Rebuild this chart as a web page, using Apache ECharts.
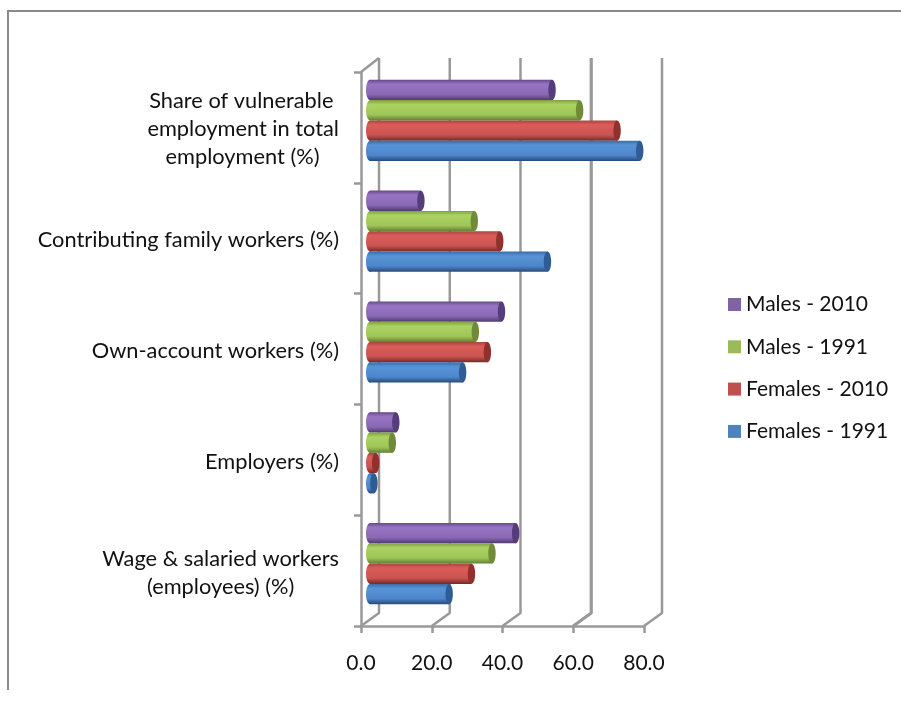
<!DOCTYPE html>
<html><head><meta charset="utf-8">
<style>html,body{margin:0;padding:0;background:#fff}#c{width:901px;height:717px}</style>
<script src="https://cdn.jsdelivr.net/npm/echarts@6/dist/echarts.min.js"></script>
</head><body><div id="c"></div>
<script>
var NB = '\u00a0';
var categories = ['Wage & salaried workers\n(employees) (%)' , 'Employers (%)', 'Own-account workers (%)', 'Contributing family workers (%)', 'Share of vulnerable\nemployment in total\nemployment (%)'];
var tickLabels = [
  'Wage & salaried workers\n(employees) (%)' + NB.repeat(8),
  'Employers (%)', 'Own-account workers (%)', 'Contributing family workers (%)',
  'Share of vulnerable' + NB + '\nemployment in total\nemployment (%)' + NB.repeat(3) + '\u2009'];
var females1991 = [22.4, 1.1, 26.2, 50.2, 76.3];
var females2010 = [28.7, 1.6, 33.2, 36.7, 69.9];
var males1991   = [34.5, 6.3, 29.8, 29.5, 59.3];
var males2010   = [41.2, 7.3, 37.2, 14.4, 51.5];
var valueTicks = [0, 20, 40, 60, 80];
var seriesNames = ['Males - 2010', 'Males - 1991', 'Females - 2010', 'Females - 1991'];
var seriesValues = [males2010, males1991, females2010, females1991];
var legendColors = ['#8064A2', '#9BBB59', '#C0504D', '#4F81BD'];
var bodyStops = [
  ['#67498D', '#9875C4', '#8A69B4', '#4F3A70'],
  ['#7F9F42', '#ACD262', '#9EC658', '#627F30'],
  ['#A84441', '#DB5D59', '#CA5350', '#752A28'],
  ['#3A6CA6', '#5893D8', '#4D86CA', '#28497A']];
var capColors = ['#553C7A', '#6F8B38', '#92302E', '#2F5D93'];

var gridColor = '#999999';
function grad(s) {
  var c = bodyStops[s];
  return {type:'linear',x:0,y:0,x2:0,y2:1,colorStops:[
    {offset:0,color:c[0]},{offset:0.22,color:c[1]},{offset:0.72,color:c[2]},{offset:1,color:c[3]}]};
}
var series = [];
series.push({
  type:'custom', xAxisIndex:0, yAxisIndex:0, z:1, silent:true, clip:false,
  data: valueTicks.map(function(v){return [v];}),
  encode:{x:0},
  renderItem:function(params, api){
    var v = api.value(0), cs = params.coordSys;
    var x = api.coord([v, 0])[0], b = cs.y + cs.height, t = cs.y;
    var kids = [{type:'polyline',shape:{points:[[x,b],[x+18,b-13],[x+18,t-14]]},
      style:{stroke:gridColor,lineWidth:v===60?3.2:2.5,fill:null,lineJoin:'bevel'}}];
    if (v===0) kids.push({type:'line',shape:{x1:x,y1:t,x2:x+18,y2:t-14},style:{stroke:gridColor,lineWidth:2.5}});
    return {type:'group',children:kids};
  }
});
seriesNames.forEach(function(n,s){
  series.push({
    name:n, type:'bar', xAxisIndex:1, yAxisIndex:1, z:2, barWidth:20.3, barGap:0, silent:true,
    data:seriesValues[s],
    itemStyle:{color:grad(s), borderRadius:0}
  });
});
seriesNames.forEach(function(n,s){
  series.push({
    type:'custom', xAxisIndex:1, yAxisIndex:1, z:3, silent:true, clip:false,
    data:seriesValues[s].map(function(v,i){return [v,i];}),
    encode:{x:0,y:1},
    renderItem:function(params, api){
      var p = api.coord([api.value(0), api.value(1)]);
      var x0 = api.coord([0, api.value(1)])[0];
      var cy = p[1] + 20.3*(s-1.5);
      return {type:'group',children:[
        {type:'ellipse',shape:{cx:x0,cy:cy,rx:4,ry:10.1},style:{fill:grad(s)}},
        {type:'ellipse',shape:{cx:p[0],cy:cy,rx:3.7,ry:10.1},style:{fill:capColors[s]}}
      ]};
    }
  });
});
var chart = echarts.init(document.getElementById('c'), null, {renderer:'canvas'});
chart.setOption({
  animation:false,
  backgroundColor:'#fff',
  textStyle:{fontFamily:'Lato'},
  graphic:[
    {type:'line',shape:{x1:7,y1:11,x2:901,y2:11},style:{stroke:'#8A8A8A',lineWidth:2}},
    {type:'line',shape:{x1:8,y1:10,x2:8,y2:690},style:{stroke:'#8A8A8A',lineWidth:2}}
  ],
  grid:[
    {left:361,top:72,width:283,height:554},
    {left:370,top:65,width:282.8,height:554},
    {left:361,top:74,width:283,height:554}
  ],
  xAxis:[
    {gridIndex:0,type:'value',min:0,max:80,interval:20,
     axisLine:{show:true,lineStyle:{color:gridColor,width:2.5}},
     axisTick:{show:true,length:7,lineStyle:{color:gridColor,width:2.5}},
     splitLine:{show:false},
     axisLabel:{margin:27,fontSize:21,color:'#111',fontFamily:'Lato',formatter:function(v){return v.toFixed(1);}}},
    {gridIndex:1,type:'value',min:0,max:80,interval:20,show:false},
    {gridIndex:2,type:'value',min:0,max:80,interval:20,show:false}
  ],
  yAxis:[
    {gridIndex:0,type:'category',data:categories,
     axisLine:{show:true,lineStyle:{color:gridColor,width:2.5}},
     axisTick:{show:true,length:7,lineStyle:{color:gridColor,width:2.5}},
     axisLabel:{show:false}},
    {gridIndex:1,type:'category',data:categories,show:false},
    {gridIndex:2,type:'category',data:categories,
     axisLine:{show:false},axisTick:{show:false},
     axisLabel:{margin:22,fontSize:21.8,lineHeight:28,color:'#111',fontFamily:'Lato',align:'right',
       interval:0,formatter:function(v,i){return tickLabels[i];}}}
  ],
  legend:{
    orient:'vertical',left:723,top:289,itemWidth:13,itemHeight:13,itemGap:21.3,icon:'rect',
    selectedMode:false,
    textStyle:{fontSize:21,color:'#111',fontFamily:'Lato'},
    data:seriesNames.map(function(n,s){return {name:n,itemStyle:{color:legendColors[s]}};})
  },
  series:series
});
</script></body></html>
